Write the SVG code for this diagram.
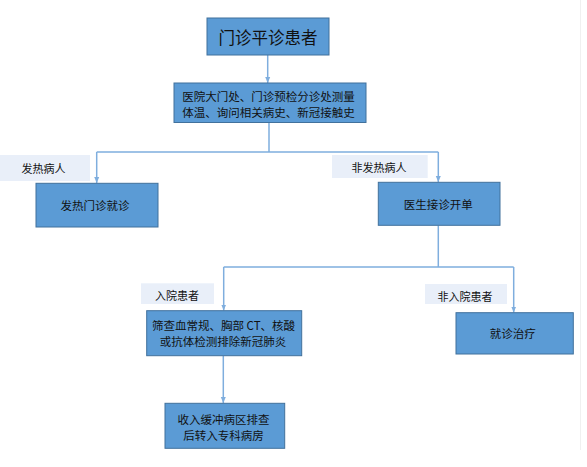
<svg xmlns="http://www.w3.org/2000/svg" width="587" height="467" viewBox="0 0 587 467">
<defs>
<style>
.box{fill:#5B9BD5;stroke:#41719C;stroke-width:1}
.lab{fill:#E9EFF9}
.t{font-family:"Noto Sans CJK SC","Noto Sans",sans-serif;fill:#111;text-anchor:middle;dominant-baseline:central}
.c{fill:none;stroke:#7FAEDE;stroke-width:1.5}
</style>
<marker id="ah" viewBox="0 0 6 6" refX="6" refY="3" markerWidth="6" markerHeight="6" markerUnits="userSpaceOnUse" orient="auto">
<path d="M0,0.5 L6,3 L0,5.5 Z" fill="#7FAEDE"/>
</marker>
</defs>
<rect width="587" height="467" fill="#FFFFFF"/>
<line x1="580.5" y1="0" x2="580.5" y2="450" stroke="#F0F0F0" stroke-width="1"/>
<g id="connectors">
<path class="c" d="M267.7,55 V83" marker-end="url(#ah)"/>
<path class="c" d="M269,122.5 V152 M96.7,152 H438.3"/>
<path class="c" d="M96.7,152 V183" marker-end="url(#ah)"/>
<path class="c" d="M438.3,152 V182" marker-end="url(#ah)"/>
<path class="c" d="M438.3,225.5 V267 M223.7,267 H513.7"/>
<path class="c" d="M223.7,267 V310.5" marker-end="url(#ah)"/>
<path class="c" d="M513.7,267 V312.5" marker-end="url(#ah)"/>
<path class="c" d="M223.3,356 V403" marker-end="url(#ah)"/>
</g>
<g id="n1">
<rect class="box" x="207" y="18" width="122" height="37"/>
<text class="t" x="268" y="37" font-size="16.5">门诊平诊患者</text>
</g>
<g id="n2">
<rect class="box" x="174" y="83" width="192" height="39.5"/>
<text class="t" x="268.5" y="96" font-size="11.5">医院大门处、门诊预检分诊处测量</text>
<text class="t" x="268.5" y="112" font-size="11.5">体温、询问相关病史、新冠接触史</text>
</g>
<g id="l1">
<rect class="lab" x="0" y="155" width="90" height="26"/>
<text class="t" x="43.5" y="167.5" font-size="11">发热病人</text>
</g>
<g id="l2">
<rect class="lab" x="332" y="155" width="95.7" height="23"/>
<text class="t" x="379" y="166.5" font-size="11">非发热病人</text>
</g>
<g id="n3">
<rect class="box" x="36" y="183.3" width="122" height="43.7"/>
<text class="t" x="95" y="205" font-size="11.5">发热门诊就诊</text>
</g>
<g id="n4">
<rect class="box" x="378.3" y="182.3" width="121.7" height="43"/>
<text class="t" x="438.3" y="204" font-size="11.5">医生接诊开单</text>
</g>
<g id="l3">
<rect class="lab" x="141" y="283.3" width="73" height="20.7"/>
<text class="t" x="177" y="294.5" font-size="11">入院患者</text>
</g>
<g id="l4">
<rect class="lab" x="425" y="284" width="82" height="20"/>
<text class="t" x="465" y="295.5" font-size="11">非入院患者</text>
</g>
<g id="n5">
<rect class="box" x="146.7" y="310.7" width="155" height="45"/>
<text class="t" x="223.5" y="325" font-size="11.5">筛查血常规、胸部 CT、核酸</text>
<text class="t" x="223" y="341" font-size="11.5">或抗体检测排除新冠肺炎</text>
</g>
<g id="n6">
<rect class="box" x="456" y="312.7" width="117.3" height="41.3"/>
<text class="t" x="512.7" y="333.3" font-size="11.5">就诊治疗</text>
</g>
<g id="n7">
<rect class="box" x="165" y="403.3" width="119.7" height="45"/>
<text class="t" x="223.5" y="419.3" font-size="11.5">收入缓冲病区排查</text>
<text class="t" x="223.5" y="434.5" font-size="11.5">后转入专科病房</text>
</g>
</svg>
